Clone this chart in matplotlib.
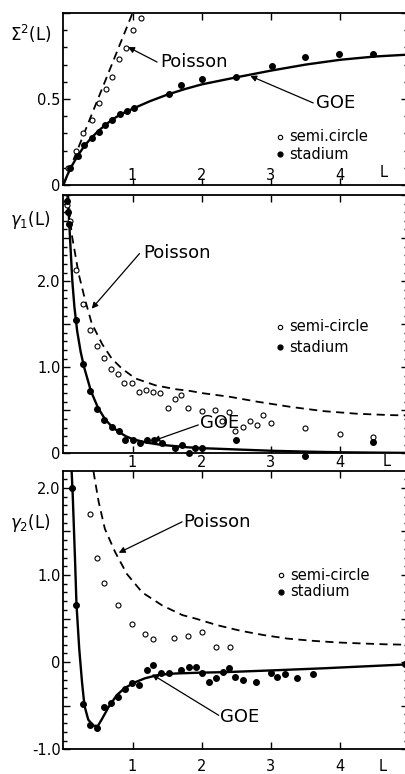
import numpy as np
import matplotlib
matplotlib.use("Agg")
import matplotlib.pyplot as plt
from matplotlib.ticker import FixedLocator, MultipleLocator, FixedFormatter

plt.rcParams['font.family'] = ['DejaVu Sans']
plt.rcParams['mathtext.fontset'] = 'dejavusans'

# ---- panel 1: Sigma^2(L) ----
s2_semi_L = [0.07, 0.18, 0.29, 0.41, 0.51, 0.61, 0.71, 0.80, 0.90, 1.00, 1.12]
s2_semi = [0.097, 0.20, 0.30, 0.38, 0.475, 0.56, 0.63, 0.73, 0.795, 0.90, 0.97]
s2_stad_L = [0.10, 0.21, 0.30, 0.41, 0.51, 0.60, 0.71, 0.82, 0.92, 1.02,
             1.52, 1.70, 2.00, 2.50, 3.01, 3.49, 3.98, 4.48]
s2_stad = [0.097, 0.17, 0.23, 0.275, 0.31, 0.35, 0.38, 0.41, 0.43, 0.45,
           0.53, 0.58, 0.615, 0.63, 0.69, 0.745, 0.76, 0.76]
s2_goe_L = [0, 0.05, 0.1, 0.2, 0.3, 0.4, 0.5, 0.6, 0.7, 0.8, 0.9, 1.0,
            1.25, 1.5, 1.75, 2.0, 2.5, 3.0, 3.5, 4.0, 4.5, 4.98]
s2_goe = [0, 0.05, 0.095, 0.165, 0.225, 0.272, 0.312, 0.347, 0.378, 0.404,
          0.425, 0.443, 0.487, 0.525, 0.557, 0.585, 0.626, 0.665, 0.70,
          0.728, 0.747, 0.758]
s2_poi_L = [0, 1.0]
s2_poi = [0, 1.0]

# ---- panel 2: gamma_1(L) ----
g1_semi_L = [0.06, 0.09, 0.18, 0.28, 0.38, 0.48, 0.59, 0.69, 0.79, 0.88,
             0.99, 1.10, 1.20, 1.30, 1.40, 1.51, 1.61, 1.70, 1.80, 2.0,
             2.19, 2.29, 2.39, 2.48, 2.59, 2.70, 2.80, 2.89, 3.0, 3.49,
             3.99, 4.48]
g1_semi = [2.88, 2.70, 2.13, 1.74, 1.43, 1.25, 1.11, 0.98, 0.92, 0.82,
           0.82, 0.71, 0.74, 0.71, 0.70, 0.53, 0.63, 0.68, 0.525, 0.49,
           0.50, 0.37, 0.48, 0.26, 0.31, 0.37, 0.33, 0.44, 0.355, 0.29,
           0.22, 0.19]
g1_stad_L = [0.06, 0.07, 0.08, 0.18, 0.29, 0.39, 0.49, 0.59, 0.70, 0.80,
             0.89, 1.0, 1.11, 1.21, 1.31, 1.42, 1.62, 1.71, 1.81, 1.90,
             2.0, 2.50, 3.49, 4.48]
g1_stad = [2.93, 2.80, 2.66, 1.545, 1.035, 0.725, 0.52, 0.39, 0.31, 0.26,
           0.16, 0.16, 0.12, 0.16, 0.15, 0.115, 0.06, 0.10, 0.0, 0.065,
           0.065, 0.16, -0.03, 0.135]
g1_goe_L = [0.06, 0.08, 0.10, 0.13, 0.16, 0.2, 0.25, 0.3, 0.4, 0.5, 0.6,
            0.7, 0.8, 0.9, 1.0, 1.2, 1.4, 1.6, 1.8, 2.0, 2.5, 3.0, 3.5,
            4.0, 4.5, 4.98]
g1_goe = [3.0, 2.75, 2.45, 2.0, 1.7, 1.42, 1.18, 1.0, 0.72, 0.53, 0.40,
          0.31, 0.25, 0.20, 0.165, 0.125, 0.10, 0.085, 0.07, 0.06, 0.045,
          0.03, 0.02, 0.012, 0.008, 0.005]
g1_poi_L = [0.07, 0.12, 0.22, 0.315, 0.41, 0.56, 0.70, 0.845, 1.04, 1.33,
            1.62, 1.83, 2.0, 2.41, 2.80, 3.28, 3.76, 4.24, 4.72, 4.98]
g1_poi = [3.0, 2.55, 2.09, 1.78, 1.51, 1.27, 1.10, 0.985, 0.87, 0.79,
          0.745, 0.725, 0.70, 0.656, 0.60, 0.54, 0.49, 0.46, 0.444, 0.44]

# ---- panel 3: gamma_2(L) ----
g2_semi_L = [0.38, 0.48, 0.59, 0.79, 0.99, 1.18, 1.29, 1.60, 1.80, 2.0,
             2.20, 2.41]
g2_semi = [1.70, 1.19, 0.91, 0.66, 0.44, 0.325, 0.26, 0.275, 0.305, 0.345,
           0.17, 0.17]
g2_stad_L = [0.13, 0.19, 0.29, 0.39, 0.48, 0.59, 0.69, 0.79, 0.89, 0.99,
             1.10, 1.21, 1.30, 1.41, 1.52, 1.70, 1.81, 1.91, 2.01, 2.10,
             2.20, 2.30, 2.39, 2.48, 2.60, 2.78, 3.0, 3.09, 3.20, 3.37,
             3.61, 4.93]
g2_stad = [2.0, 0.66, -0.48, -0.72, -0.75, -0.51, -0.47, -0.405, -0.31,
           -0.24, -0.26, -0.095, -0.035, -0.12, -0.12, -0.085, -0.06,
           -0.055, -0.125, -0.23, -0.18, -0.11, -0.07, -0.175, -0.21,
           -0.23, -0.13, -0.165, -0.14, -0.18, -0.14, -0.02]
g2_goe_L = [0.12, 0.136, 0.17, 0.19, 0.23, 0.27, 0.305, 0.36, 0.435, 0.50,
            0.56, 0.65, 0.77, 0.89, 1.04, 1.18, 1.38, 1.62, 2.0, 2.32, 3.0,
            3.77, 4.98]
g2_goe = [2.19, 1.91, 1.15, 0.66, 0.15, -0.23, -0.50, -0.66, -0.73, -0.73,
          -0.65, -0.52, -0.38, -0.295, -0.23, -0.185, -0.145, -0.13, -0.12,
          -0.115, -0.095, -0.07, -0.025]
g2_poi_L = [0.435, 0.51, 0.60, 0.75, 0.92, 1.14, 1.43, 1.72, 1.91, 2.22,
            2.56, 2.90, 3.24, 3.60, 3.96, 4.30, 4.64, 4.98]
g2_poi = [2.19, 1.84, 1.53, 1.26, 1.01, 0.80, 0.65, 0.54, 0.50, 0.425,
          0.36, 0.31, 0.27, 0.245, 0.226, 0.215, 0.205, 0.20]

x_ticks = [1, 2, 3, 4]
x_labels = ['1', '2', '3', '4']


def style_axes(ax, ylim, yticks, ylabels, xpad):
    """Box with inward ticks on all four sides"""
    ax.set_xlim(0, 4.98)
    ax.set_ylim(*ylim)
    ax.xaxis.set_major_locator(FixedLocator(x_ticks))
    ax.xaxis.set_major_formatter(FixedFormatter(x_labels))
    ax.yaxis.set_major_locator(FixedLocator(yticks))
    ax.yaxis.set_major_formatter(FixedFormatter(ylabels))
    ax.yaxis.set_minor_locator(MultipleLocator(0.1))
    ax.tick_params(axis='both', which='both', direction='in',
                   top=True, right=True, width=1.0, labelsize=10.5)
    ax.tick_params(axis='both', which='major', length=5)
    ax.tick_params(axis='y', which='minor', length=3)
    ax.tick_params(axis='y', which='major', pad=2)
    ax.tick_params(axis='x', which='major', pad=xpad)
    for sp in ax.spines.values():
        sp.set_linewidth(1.3)


def draw_panel(ax, goe_L, goe, poi_L, poi, semi_L, semi, stad_L, stad):
    ax.plot(goe_L, goe, color='k', lw=1.7)
    ln, = ax.plot(poi_L, poi, color='k', lw=1.3)
    ln.set_dashes((4.5, 3))
    ax.scatter(semi_L, semi, s=13, facecolors='white', edgecolors='k',
               linewidths=0.8, zorder=3, clip_on=False)
    ax.scatter(stad_L, stad, s=16, color='k', zorder=4, clip_on=False)


def label_arrow(ax, text, tip, tail, tx, ty):
    ax.annotate('', xy=tip, xytext=tail,
                arrowprops=dict(arrowstyle='-|>', color='k', lw=0.9,
                                mutation_scale=9, shrinkA=0, shrinkB=0))
    ax.text(tx, ty, text, fontsize=13, ha='left', va='center')


def legend_text(ax, x, y1, y2, semi_txt):
    ax.scatter([x], [y1], s=10, facecolors='white', edgecolors='k',
               linewidths=0.8)
    ax.scatter([x], [y2], s=12, color='k')
    ax.text(x + 0.14, y1, semi_txt, fontsize=10.5, ha='left', va='center')
    ax.text(x + 0.14, y2, 'stadium', fontsize=10.5, ha='left', va='center')


fig = plt.figure(figsize=(4.06, 7.74), dpi=100)
left, width = 0.156, 0.849
ax1 = fig.add_axes([left, 0.761, width, 0.2222])
ax2 = fig.add_axes([left, 0.4143, width, 0.3337])
ax3 = fig.add_axes([left, 0.0319, width, 0.3592])

# panel 1
draw_panel(ax1, s2_goe_L, s2_goe, s2_poi_L, s2_poi,
           s2_semi_L, s2_semi, s2_stad_L, s2_stad)
style_axes(ax1, (0, 1.0), [0, 0.5, 1.0], ['0', '0.5', ''], -12)
label_arrow(ax1, 'Poisson', (0.935, 0.802), (1.354, 0.715), 1.40, 0.715)
label_arrow(ax1, 'GOE', (2.70, 0.634), (3.61, 0.477), 3.65, 0.477)
legend_text(ax1, 3.13, 0.28, 0.18, 'semi.circle')
ax1.text(4.63, 0.07, 'L', fontsize=10.5, ha='center', va='center')

# panel 2
draw_panel(ax2, g1_goe_L, g1_goe, g1_poi_L, g1_poi,
           g1_semi_L, g1_semi, g1_stad_L, g1_stad)
style_axes(ax2, (0, 3.0), [0, 0.5, 1.0, 1.5, 2.0, 2.5, 3.0],
           ['0', '', '1.0', '', '2.0', '', ''], 1.5)
label_arrow(ax2, 'Poisson', (0.41, 1.68), (1.10, 2.32), 1.155, 2.33)
label_arrow(ax2, 'GOE', (1.30, 0.146), (1.95, 0.33), 1.98, 0.35)
legend_text(ax2, 3.13, 1.47, 1.235, 'semi-circle')
ax2.text(4.67, -0.1, 'L', fontsize=10.5, ha='center', va='center',
         clip_on=False)

# panel 3
draw_panel(ax3, g2_goe_L, g2_goe, g2_poi_L, g2_poi,
           g2_semi_L, g2_semi, g2_stad_L, g2_stad)
style_axes(ax3, (-1.0, 2.19), [-1.0, -0.5, 0, 0.5, 1.0, 1.5, 2.0],
           ['-1.0', '', '0', '', '1.0', '', '2.0'], 7)
label_arrow(ax3, 'Poisson', (0.80, 1.255), (1.716, 1.61), 1.735, 1.61)
label_arrow(ax3, 'GOE', (1.28, -0.14), (2.245, -0.61), 2.27, -0.63)
legend_text(ax3, 3.14, 1.0, 0.81, 'semi-circle')
ax3.text(4.62, -1.2, 'L', fontsize=10.5, ha='center', va='center',
         clip_on=False)

# y axis labels
fig.text(0.025, 0.956, r'$\Sigma^{2}\mathrm{(L)}$', fontsize=12, va='center')
fig.text(0.025, 0.716, r'$\gamma_{1}\mathrm{(L)}$', fontsize=12, va='center')
fig.text(0.025, 0.324, r'$\gamma_{2}\mathrm{(L)}$', fontsize=12, va='center')

fig.savefig('out.png', dpi=100)
